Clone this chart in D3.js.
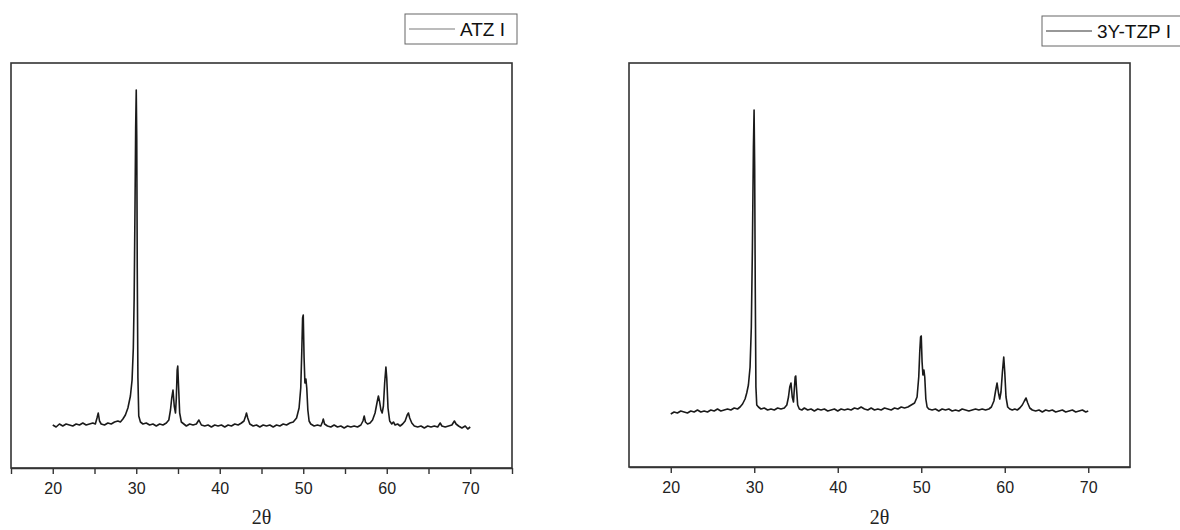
<!DOCTYPE html>
<html>
<head>
<meta charset="utf-8">
<script src="https://cdn.jsdelivr.net/npm/d3@7"></script>
<style>
  body { margin: 0; background: #fff; }
  svg { display: block; font-family: "Liberation Sans", Arial, sans-serif; }
  .tick text { font-size: 16px; fill: #222; }
</style>
</head>
<body>
<div id="chart"></div>
<script>
(function () {

// ATZ I pattern, [2theta, intensity (a.u.)]
var atzData = [
  [20.0,43],[20.4,41],[20.8,44],[21.2,42],[21.6,44],[22.0,43],[22.4,42],[22.8,44],[23.2,43],[23.6,45],
  [24.0,43],[24.4,44],[24.8,45],[25.1,44],[25.3,50],[25.45,55],[25.6,47],[25.8,44],[26.2,43],[26.6,45],
  [27.0,44],[27.4,46],[27.8,47],[28.1,46],[28.4,49],[28.7,53],[29.0,60],[29.3,72],[29.5,88],[29.65,120],
  [29.75,170],[29.85,260],[29.93,340],[30.0,378],[30.06,330],[30.12,200],[30.2,90],[30.3,52],[30.5,46],[30.8,44],
  [31.2,45],[31.6,43],[32.0,44],[32.4,42],[32.8,44],[33.2,43],[33.6,45],[33.9,48],[34.1,58],[34.25,70],
  [34.4,78],[34.55,62],[34.7,55],[34.8,70],[34.9,98],[34.97,102],[35.05,85],[35.2,55],[35.4,46],[35.7,44],
  [36.0,42],[36.4,44],[36.8,43],[37.2,44],[37.5,48],[37.8,43],[38.2,42],[38.6,43],[39.0,41],[39.4,43],
  [39.8,42],[40.2,43],[40.6,41],[41.0,43],[41.4,42],[41.8,44],[42.2,43],[42.6,45],[42.9,47],[43.1,52],
  [43.2,55],[43.35,50],[43.6,44],[44.0,42],[44.4,43],[44.8,41],[45.2,43],[45.6,42],[46.0,43],[46.4,41],
  [46.8,43],[47.2,42],[47.6,44],[48.0,43],[48.4,45],[48.8,46],[49.2,50],[49.5,60],[49.7,80],[49.82,115],
  [49.92,150],[50.0,153],[50.1,110],[50.2,85],[50.32,89],[50.42,80],[50.55,58],[50.7,47],[50.9,44],[51.3,42],
  [51.7,43],[52.1,42],[52.3,46],[52.4,49],[52.55,44],[52.9,42],[53.3,41],[53.7,43],[54.1,41],[54.5,42],
  [54.9,40],[55.3,42],[55.7,41],[56.1,42],[56.5,41],[56.9,43],[57.15,47],[57.3,52],[57.45,46],[57.7,44],
  [58.0,45],[58.3,48],[58.6,55],[58.85,66],[59.0,72],[59.15,66],[59.3,58],[59.45,55],[59.6,62],[59.75,85],
  [59.9,101],[60.0,90],[60.15,60],[60.35,47],[60.6,44],[60.8,46],[61.0,43],[61.3,44],[61.6,42],[61.9,44],
  [62.2,47],[62.45,53],[62.6,55],[62.75,50],[63.0,45],[63.3,42],[63.7,41],[64.1,42],[64.5,40],[64.9,42],
  [65.3,41],[65.7,42],[66.1,41],[66.4,45],[66.6,42],[67.0,41],[67.4,42],[67.8,43],[68.1,47],[68.3,44],
  [68.6,42],[69.0,40],[69.4,42],[69.7,39],[70.0,41]
];

// 3Y-TZP I pattern
var tzpData = [
  [20.0,53],[20.4,55],[20.8,54],[21.2,56],[21.6,55],[22.0,54],[22.4,56],[22.8,55],[23.2,57],[23.6,55],
  [24.0,56],[24.4,55],[24.8,57],[25.2,56],[25.6,58],[26.0,56],[26.4,57],[26.8,58],[27.2,57],[27.6,59],
  [28.0,58],[28.3,60],[28.6,63],[28.9,68],[29.1,74],[29.3,82],[29.5,100],[29.65,140],[29.78,220],[29.9,320],
  [29.98,357],[30.05,300],[30.12,180],[30.2,80],[30.3,62],[30.5,60],[30.8,58],[31.2,59],[31.6,57],[32.0,58],
  [32.4,57],[32.8,59],[33.2,58],[33.6,59],[33.9,62],[34.1,70],[34.25,80],[34.4,84],[34.55,70],[34.7,65],
  [34.8,78],[34.9,90],[34.97,91],[35.05,80],[35.2,62],[35.4,58],[35.7,57],[36.0,59],[36.4,57],[36.8,58],
  [37.2,56],[37.6,58],[38.0,57],[38.4,58],[38.8,56],[39.2,57],[39.6,58],[40.0,56],[40.4,58],[40.8,57],
  [41.2,58],[41.6,57],[42.0,59],[42.4,58],[42.8,60],[43.2,58],[43.6,57],[44.0,59],[44.4,57],[44.8,58],
  [45.2,57],[45.6,59],[46.0,58],[46.4,57],[46.8,59],[47.2,58],[47.6,60],[48.0,59],[48.4,60],[48.8,62],
  [49.2,64],[49.5,70],[49.7,90],[49.82,115],[49.92,130],[50.0,131],[50.1,105],[50.2,92],[50.32,97],[50.42,90],
  [50.55,68],[50.7,60],[50.9,58],[51.3,57],[51.7,58],[52.1,56],[52.5,58],[52.9,57],[53.3,58],[53.7,56],
  [54.1,57],[54.5,56],[54.9,58],[55.3,57],[55.7,56],[56.1,57],[56.5,58],[56.9,57],[57.3,58],[57.7,57],
  [58.1,58],[58.4,60],[58.7,66],[58.9,76],[59.08,84],[59.25,74],[59.4,68],[59.55,75],[59.72,95],[59.88,110],
  [60.0,95],[60.15,70],[60.35,60],[60.6,58],[60.9,57],[61.2,58],[61.5,57],[61.8,59],[62.1,62],[62.35,66],
  [62.55,69],[62.75,64],[63.0,59],[63.3,57],[63.7,56],[64.1,57],[64.5,55],[64.9,57],[65.3,56],[65.7,57],
  [66.1,55],[66.5,56],[66.9,57],[67.3,55],[67.7,56],[68.1,57],[68.5,55],[68.9,56],[69.3,57],[69.7,55],
  [70.0,56]
];

var xDomain = [15, 75];
var majorTicks = [20, 30, 40, 50, 60, 70];
var minorTicks = [15, 20, 25, 30, 35, 40, 45, 50, 55, 60, 65, 70, 75];
var xLabel = "2\u03b8";

var panels = [
  {name: "ATZ I", data: atzData, x0: 11, x1: 512, top: 63, bottom: 468, yMax: 405,
   ticks: minorTicks, legend: {x: 405, y: 14, w: 112}, lineColor: "#7a7a7a"},
  {name: "3Y-TZP I", data: tzpData, x0: 629, x1: 1130, top: 63, bottom: 467, yMax: 404,
   ticks: majorTicks, legend: {x: 1042, y: 16, w: 150}, lineColor: "#333"}
];

var svg = d3.select("#chart")
            .append("svg")
            .attr("width", 1180)
            .attr("height", 530);

panels.forEach(function (p) {
  var x = d3.scaleLinear().domain(xDomain).range([p.x0, p.x1]);
  var y = d3.scaleLinear().domain([0, p.yMax]).range([p.bottom, p.top]);

  var g = svg.append("g");

  // frame
  g.append("rect")
   .attr("x", p.x0).attr("y", p.top)
   .attr("width", p.x1 - p.x0).attr("height", p.bottom - p.top)
   .attr("fill", "none")
   .attr("stroke", "#333")
   .attr("stroke-width", 1.6);

  var axis = d3.axisBottom(x)
               .tickValues(p.ticks)
               .tickSize(6)
               .tickSizeOuter(0)
               .tickFormat(function (d) { return majorTicks.indexOf(d) >= 0 ? d : ""; });

  var ax = g.append("g")
            .attr("transform", "translate(0," + p.bottom + ")")
            .call(axis);
  ax.select(".domain").attr("stroke", "#333").attr("stroke-width", 1.6);
  ax.selectAll(".tick line").attr("stroke", "#333").attr("stroke-width", 1.4);
  ax.selectAll(".tick text").attr("dy", "1.05em");

  g.append("text")
   .attr("x", (p.x0 + p.x1) / 2)
   .attr("y", 524)
   .attr("text-anchor", "middle")
   .attr("font-family", "'Liberation Serif', 'DejaVu Serif', serif")
   .attr("font-size", 20)
   .attr("fill", "#222")
   .text(xLabel);

  var line = d3.line()
               .x(function (d) { return x(d[0]); })
               .y(function (d) { return y(d[1]); });

  g.append("path")
   .datum(p.data)
   .attr("fill", "none")
   .attr("stroke", "#1a1a1a")
   .attr("stroke-width", 1.6)
   .attr("stroke-linejoin", "round")
   .attr("d", line);

  // legend
  var lg = svg.append("g").attr("transform", "translate(" + p.legend.x + "," + p.legend.y + ")");
  lg.append("rect")
    .attr("width", p.legend.w).attr("height", 30)
    .attr("fill", "#fff")
    .attr("stroke", "#666")
    .attr("stroke-width", 1);
  lg.append("line")
    .attr("x1", 4).attr("x2", 50)
    .attr("y1", 15).attr("y2", 15)
    .attr("stroke", p.lineColor)
    .attr("stroke-width", 1.2);
  lg.append("text")
    .attr("x", 55).attr("y", 22)
    .attr("font-size", 19)
    .attr("fill", "#111")
    .text(p.name);
});

})();
</script>
</body>
</html>
